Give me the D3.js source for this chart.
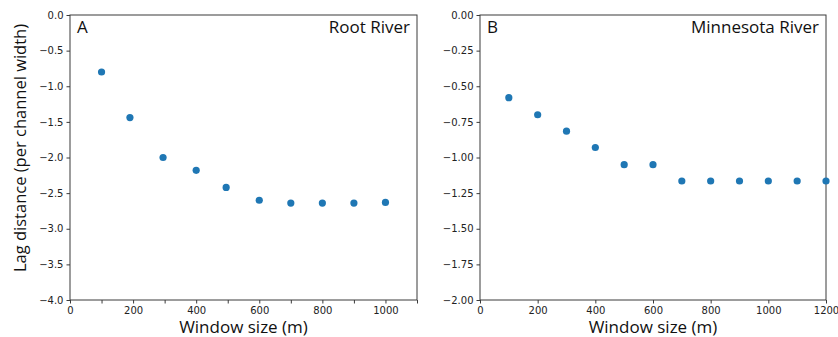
<!DOCTYPE html>
<html><head><meta charset="utf-8">
<script src="https://cdn.jsdelivr.net/npm/d3@7"></script>
<style>body{margin:0;background:#fff}svg{display:block}</style>
</head><body>
<script>
const rootX = [100, 190, 295, 400, 495, 600, 700, 800, 900, 1000];
const rootY = [-0.80, -1.44, -2.00, -2.18, -2.42, -2.60, -2.64, -2.64, -2.64, -2.63];
const mnX = [100, 200, 300, 400, 500, 600, 700, 800, 900, 1000, 1100, 1200];
const mnY = [-0.58, -0.70, -0.815, -0.93, -1.05, -1.05, -1.165, -1.165, -1.165, -1.165, -1.165, -1.165];
const rootXTicks = [0, 200, 400, 600, 800, 1000];
const rootXMinor = [100, 300, 500, 700, 900, 1100];
const rootYTicks = [0, -0.5, -1.0, -1.5, -2.0, -2.5, -3.0, -3.5, -4.0];
const mnXTicks = [0, 200, 400, 600, 800, 1000, 1200];
const mnYTicks = [0, -0.25, -0.5, -0.75, -1.0, -1.25, -1.5, -1.75, -2.0];

const W = 838, H = 337;
const svg = d3.select("body").append("svg").attr("width", W).attr("height", H);
const axisColor = "#3a3a3a";
const labelFont = "'Open Sans', Lato, sans-serif";

function panel(o) {
  const g = svg.append("g");
  const x = d3.scaleLinear().domain(o.xd).range([o.x0, o.x1]);
  const y = d3.scaleLinear().domain(o.yd).range([o.y1, o.y0]);
  g.append("rect").attr("x", o.x0).attr("y", o.y0).attr("width", o.x1 - o.x0).attr("height", o.y1 - o.y0)
    .attr("fill", "none").attr("stroke", axisColor).attr("stroke-width", 1);
  const xa = g.append("g").attr("transform", `translate(0,${o.y1})`)
    .call(d3.axisBottom(x).tickValues(o.xt).tickFormat(d3.format("d")).tickSize(3.5).tickPadding(3));
  if (o.xm) {
    g.append("g").attr("transform", `translate(0,${o.y1})`)
      .call(d3.axisBottom(x).tickValues(o.xm).tickFormat("").tickSize(3.5))
      .call(s => s.select(".domain").remove())
      .selectAll("line").attr("stroke", axisColor);
  }
  const ya = g.append("g").attr("transform", `translate(${o.x0},0)`)
    .call(d3.axisLeft(y).tickValues(o.yt).tickFormat(o.yf).tickSize(3.5).tickPadding(3));
  [xa, ya].forEach(a => {
    a.select(".domain").remove();
    a.selectAll("line").attr("stroke", axisColor);
    a.selectAll("text").attr("font-family", "'DejaVu Sans', sans-serif").attr("font-size", 10).attr("fill", "#222")
      .text(function(){ return this.textContent.replace("-", "\u2212"); });
  });
  g.selectAll("circle").data(o.xs).join("circle")
    .attr("cx", d => x(d)).attr("cy", (d, i) => y(o.ys[i])).attr("r", 3.6).attr("fill", "#1f77b4");
  g.append("text").attr("x", o.x0 + 7).attr("y", o.y0 + 18).attr("font-family", labelFont)
    .attr("font-size", 17).attr("fill", "#111").text(o.letter);
  g.append("text").attr("x", o.x1 - 7).attr("y", o.y0 + 18).attr("text-anchor", "end").attr("font-family", labelFont)
    .attr("font-size", 17).attr("fill", "#111").text(o.title);
  g.append("text").attr("x", (o.x0 + o.x1) / 2).attr("y", 333).attr("text-anchor", "middle")
    .attr("font-family", labelFont).attr("font-size", 17).attr("fill", "#111").text("Window size (m)");
}

panel({x0: 70, x1: 417, y0: 15, y1: 300, xd: [0, 1100], yd: [-4, 0], xt: rootXTicks, xm: rootXMinor,
  yt: rootYTicks, yf: d3.format(".1f"), xs: rootX, ys: rootY, letter: "A", title: "Root River"});
panel({x0: 480, x1: 826, y0: 15, y1: 300, xd: [0, 1200], yd: [-2, 0], xt: mnXTicks,
  yt: mnYTicks, yf: d3.format(".2f"), xs: mnX, ys: mnY, letter: "B", title: "Minnesota River"});

svg.append("text").attr("transform", "translate(26,148) rotate(-90)").attr("text-anchor", "middle")
  .attr("font-family", labelFont).attr("font-size", 16.5).attr("fill", "#111").text("Lag distance (per channel width)");
</script>
</body></html>
